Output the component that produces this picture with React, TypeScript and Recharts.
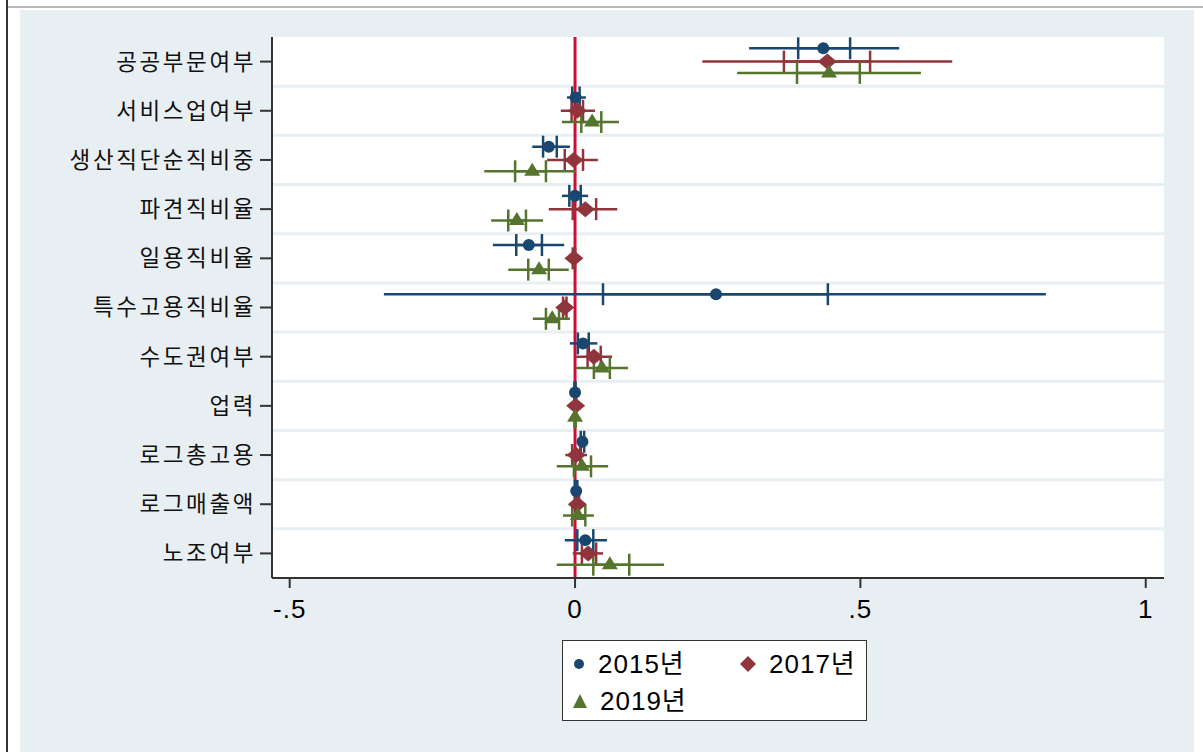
import React from "react";
import {
  CartesianGrid,
  ErrorBar,
  Legend,
  ReferenceLine,
  Scatter,
  ScatterChart,
  XAxis,
  YAxis,
} from "recharts";

// categories, top to bottom
const categories = [
  "공공부문여부",
  "서비스업여부",
  "생산직단순직비중",
  "파견직비율",
  "일용직비율",
  "특수고용직비율",
  "수도권여부",
  "업력",
  "로그총고용",
  "로그매출액",
  "노조여부",
];

// 2015년 : coefficient, outer CI, inner CI (tick marks)
const coef2015 = [0.435, 0.001, -0.046, 0.0, -0.081, 0.247, 0.014, 0.0, 0.013, 0.002, 0.018];
const lo2015 = [0.305, -0.014, -0.075, -0.023, -0.144, -0.335, -0.009, -0.003, 0.006, -0.002, -0.018];
const hi2015 = [0.568, 0.019, -0.009, 0.023, -0.019, 0.825, 0.039, 0.003, 0.02, 0.006, 0.056];
const loIn2015 = [0.391, -0.005, -0.056, -0.01, -0.103, 0.049, 0.005, -0.001, 0.01, 0.0, 0.004];
const hiIn2015 = [0.482, 0.008, -0.032, 0.01, -0.058, 0.443, 0.024, 0.001, 0.016, 0.004, 0.032];

// 2017년
const coef2017 = [0.442, 0.004, -0.002, 0.018, -0.002, -0.018, 0.033, 0.001, 0.002, 0.004, 0.023];
const lo2017 = [0.223, -0.025, -0.049, -0.046, -0.008, -0.026, 0.002, -0.002, -0.017, -0.003, -0.004];
const hi2017 = [0.661, 0.035, 0.04, 0.074, 0.004, -0.01, 0.065, 0.004, 0.021, 0.011, 0.049];
const loIn2017 = [0.366, -0.006, -0.018, -0.004, -0.004, -0.021, 0.022, 0.0, -0.005, 0.001, 0.012];
const hiIn2017 = [0.517, 0.014, 0.014, 0.037, 0.0, -0.015, 0.045, 0.002, 0.009, 0.007, 0.037];

// 2019년
const coef2019 = [0.445, 0.03, -0.075, -0.102, -0.063, -0.04, 0.047, 0.0, 0.012, 0.005, 0.061];
const lo2019 = [0.284, -0.023, -0.159, -0.147, -0.117, -0.074, 0.002, -0.003, -0.032, -0.021, -0.032];
const hi2019 = [0.606, 0.077, 0.002, -0.056, -0.011, -0.009, 0.093, 0.003, 0.058, 0.033, 0.156];
const loIn2019 = [0.389, 0.011, -0.105, -0.117, -0.082, -0.051, 0.033, -0.001, -0.002, -0.005, 0.032];
const hiIn2019 = [0.499, 0.046, -0.051, -0.086, -0.046, -0.028, 0.061, 0.001, 0.028, 0.018, 0.095];

const xTicks = [-0.5, 0, 0.5, 1];
const xTickLabels = ["-.5", "0", ".5", "1"];

const NAVY = "#1a476f";
const MAROON = "#90353b";
const GREEN = "#55752f";
const BG = "#e8eff2";
const FONT = "'Liberation Sans', Arial, 'Noto Sans CJK KR', sans-serif";

// vertical offset of each year inside a category band
const OFF_2015 = -0.27;
const OFF_2017 = 0;
const OFF_2019 = 0.23;

function buildRows(
  coef: number[],
  lo: number[],
  hi: number[],
  loIn: number[],
  hiIn: number[],
  offset: number
) {
  return categories.map((name, i) => ({
    name,
    x: coef[i],
    y: i + 0.5 + offset,
    outer: [coef[i] - lo[i], hi[i] - coef[i]],
    inner: [coef[i] - loIn[i], hiIn[i] - coef[i]],
  }));
}

const rows2015 = buildRows(coef2015, lo2015, hi2015, loIn2015, hiIn2015, OFF_2015);
const rows2017 = buildRows(coef2017, lo2017, hi2017, loIn2017, hiIn2017, OFF_2017);
const rows2019 = buildRows(coef2019, lo2019, hi2019, loIn2019, hiIn2019, OFF_2019);

const DotShape = (p: any) => <circle cx={p.cx} cy={p.cy} r={6} fill={NAVY} />;
const DiamondShape = (p: any) => (
  <polygon
    points={`${p.cx - 9.5},${p.cy} ${p.cx},${p.cy - 8} ${p.cx + 9.5},${p.cy} ${p.cx},${p.cy + 8}`}
    fill={MAROON}
  />
);
const TriangleShape = (p: any) => (
  <polygon
    points={`${p.cx - 8},${p.cy + 4.5} ${p.cx},${p.cy - 8.5} ${p.cx + 8},${p.cy + 4.5}`}
    fill={GREEN}
  />
);

function LegendMarker({ name }: { name: string }) {
  if (name === "2015년")
    return (
      <svg width={14} height={16}>
        <circle cx={7} cy={8} r={5} fill={NAVY} />
      </svg>
    );
  if (name === "2017년")
    return (
      <svg width={18} height={18}>
        <polygon points="1,9 9,1 17,9 9,17" fill={MAROON} />
      </svg>
    );
  return (
    <svg width={16} height={16}>
      <polygon points="1,15 8,1 15,15" fill={GREEN} />
    </svg>
  );
}

const legendPos = [
  { left: 9, top: 9 },
  { left: 176, top: 9 },
  { left: 9, top: 46 },
];

function renderLegend(props: any) {
  const items = (props.payload || []) as any[];
  return (
    <div
      style={{
        position: "relative",
        width: 305,
        height: 81,
        boxSizing: "border-box",
        border: "1.5px solid #333",
        background: "#fff",
        fontFamily: FONT,
        fontSize: 26,
        color: "#000",
        letterSpacing: 1,
      }}
    >
      {items.map((it, i) => (
        <div
          key={it.value}
          style={{
            position: "absolute",
            left: legendPos[i].left,
            top: legendPos[i].top,
            display: "flex",
            alignItems: "center",
            gap: 12,
            lineHeight: "28px",
          }}
        >
          <LegendMarker name={it.value} />
          <span>{it.value}</span>
        </div>
      ))}
    </div>
  );
}

export default function App() {
  return (
    <div
      style={{
        position: "absolute",
        left: 0,
        top: 0,
        width: 1203,
        height: 752,
        background: "#fff",
        overflow: "hidden",
      }}
    >
      <div style={{ position: "absolute", left: 7, top: 6, width: 1196, height: 2, background: "#b8b8b8" }} />
      <div style={{ position: "absolute", left: 6, top: 0, width: 2, height: 752, background: "#333" }} />
      <div style={{ position: "absolute", left: 20, top: 10, width: 1174, height: 742, background: BG }}>
        <ScatterChart
          width={1174}
          height={742}
          margin={{ top: 27, right: 30, bottom: 114, left: 0 }}
        >
          <CartesianGrid fill="#fff" stroke="none" horizontal={false} vertical={false} />
          {[1, 2, 3, 4, 5, 6, 7, 8, 9, 10].map((k) => (
            <ReferenceLine key={k} y={k} stroke={BG} strokeWidth={3} />
          ))}
          <ReferenceLine x={0} stroke="#cc1035" strokeWidth={3} />
          <XAxis
            type="number"
            dataKey="x"
            domain={[-0.531, 1.032]}
            allowDataOverflow
            ticks={xTicks}
            tickFormatter={(v: number) => xTickLabels[xTicks.indexOf(v)] ?? String(v)}
            height={60}
            tickSize={10}
            tickMargin={12}
            axisLine={{ stroke: "#333", strokeWidth: 2 }}
            tickLine={{ stroke: "#333", strokeWidth: 2 }}
            tick={{ fontSize: 26, fill: "#000", fontFamily: FONT, letterSpacing: 1 }}
          />
          <YAxis
            type="number"
            dataKey="y"
            domain={[0, 11]}
            reversed
            allowDataOverflow
            ticks={categories.map((_, i) => i + 0.5)}
            interval={0}
            tickFormatter={(v: number) => categories[Math.floor(v)]}
            width={252}
            tickSize={12}
            tickMargin={4}
            axisLine={{ stroke: "#333", strokeWidth: 2 }}
            tickLine={{ stroke: "#333", strokeWidth: 2 }}
            tick={{ fontSize: 22.5, fill: "#111", fontFamily: "'Noto Sans CJK KR', sans-serif", letterSpacing: 2.6 }}
          />
          <Scatter name="2015년" data={rows2015} fill={NAVY} shape={DotShape} isAnimationActive={false}>
            <ErrorBar dataKey="outer" direction="x" width={0} stroke={NAVY} strokeWidth={2.5} />
            <ErrorBar dataKey="inner" direction="x" width={11} stroke={NAVY} strokeWidth={2.5} />
          </Scatter>
          <Scatter name="2017년" data={rows2017} fill={MAROON} shape={DiamondShape} isAnimationActive={false}>
            <ErrorBar dataKey="outer" direction="x" width={0} stroke={MAROON} strokeWidth={2.5} />
            <ErrorBar dataKey="inner" direction="x" width={11} stroke={MAROON} strokeWidth={2.5} />
          </Scatter>
          <Scatter name="2019년" data={rows2019} fill={GREEN} shape={TriangleShape} isAnimationActive={false}>
            <ErrorBar dataKey="outer" direction="x" width={0} stroke={GREEN} strokeWidth={2.5} />
            <ErrorBar dataKey="inner" direction="x" width={11} stroke={GREEN} strokeWidth={2.5} />
          </Scatter>
          <Legend
            layout="vertical"
            align="center"
            verticalAlign="middle"
            content={renderLegend}
            wrapperStyle={{ left: 542, top: 630, width: 305, height: 81 }}
          />
        </ScatterChart>
      </div>
    </div>
  );
}
